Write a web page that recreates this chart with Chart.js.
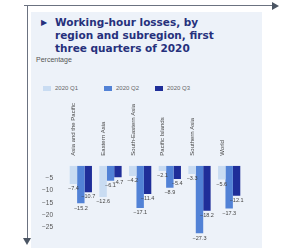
<!DOCTYPE html>
<html>
<head>
<meta charset="utf-8">
<script src="https://cdn.jsdelivr.net/npm/chart.js@4/dist/chart.umd.min.js"></script>
<style>
  html, body { margin: 0; padding: 0; background: #fff; }
  body { width: 282px; height: 252px; position: relative; overflow: hidden; font-family: "Liberation Sans", Arial, sans-serif; }
  .hline { position: absolute; left: 24px; top: 5px; width: 250px; height: 1px; background: #6b7280; }
  .harrow { position: absolute; left: 272px; top: 2px; width: 0; height: 0; border-top: 4px solid transparent; border-bottom: 4px solid transparent; border-left: 7px solid #4b5563; }
  .vline { position: absolute; left: 27px; top: 5px; width: 1px; height: 238px; background: #6b7280; }
  .varrow { position: absolute; left: 23px; top: 238px; width: 0; height: 0; border-left: 4px solid transparent; border-right: 4px solid transparent; border-top: 7px solid #4b5563; }
  .box { position: absolute; left: 31px; top: 12px; width: 231px; height: 236px; background: #edf2f9; }
  .title { position: absolute; left: 41px; top: 16px; width: 190px; font-family: "DejaVu Sans", sans-serif; font-weight: bold; font-size: 10.5px; line-height: 13px; color: #26307c; }
  .title .tri { position: absolute; left: 0; top: 0; font-size: 8px; }
  .title .txt { padding-left: 14px; display: block; }
  .sub { position: absolute; left: 36px; top: 56px; font-size: 7px; color: #555; }
  .legend { position: absolute; top: 85px; font-size: 6px; color: #666; white-space: nowrap; line-height: 7px; }
  .legend i { display: inline-block; width: 8px; height: 5px; margin-right: 4px; vertical-align: -0.5px; }
  #wrap { position: absolute; left: 34px; top: 101px; width: 222px; height: 143px; }
</style>
</head>
<body>
<div class="hline"></div><div class="harrow"></div>
<div class="vline"></div><div class="varrow"></div>
<div class="box"></div>
<div class="title"><span class="tri">&#9654;</span><span class="txt">Working-hour losses, by region and subregion, first three quarters of 2020</span></div>
<div class="sub">Percentage</div>
<div id="legend"></div>
<div id="wrap"><canvas id="chart"></canvas></div>
<script>
const regions = ['Asia and the Pacific', 'Eastern Asia', 'South-Eastern Asia', 'Pacific Islands', 'Southern Asia', 'World'];
const seriesNames = ['2020 Q1', '2020 Q2', '2020 Q3'];
const q1 = [-7.4, -12.6, -4.2, -2.1, -3.3, -5.6];
const q2 = [-15.2, -6.1, -17.1, -8.9, -27.3, -17.3];
const q3 = [-10.7, -4.7, -11.4, -5.4, -18.2, -12.1];
const yTicks = [-5, -10, -15, -20, -25];
const colors = ['#c9dcf2', '#5282d6', '#1f2e99'];
const legendX = [43, 104, 155];

function fmt(v) {
    return String(v).replace('-', '\u2212');
}

// legend sits above the rotated category labels, so it is plain html
document.getElementById('legend').innerHTML = seriesNames.map((name, i) =>
    `<div class="legend" style="left:${legendX[i]}px"><i style="background:${colors[i]}"></i>${name}</div>`
).join('');

const valueLabels = {
    id: 'valueLabels',
    afterDatasetsDraw(chart) {
        const ctx = chart.ctx;
        ctx.save();
        ctx.font = '5.5px "Liberation Sans", Arial, sans-serif';
        ctx.fillStyle = '#444';
        ctx.textAlign = 'center';
        ctx.textBaseline = 'top';
        chart.data.datasets.forEach((ds, i) => {
            chart.getDatasetMeta(i).data.forEach((bar, j) => {
                ctx.fillText(fmt(ds.data[j]), bar.x, bar.y + 2);
            });
        });
        ctx.restore();
    }
};

new Chart(document.getElementById('chart'), {
    type: 'bar',
    data: {
        labels: regions,
        datasets: [
            { label: seriesNames[0], data: q1, backgroundColor: colors[0] },
            { label: seriesNames[1], data: q2, backgroundColor: colors[1] },
            { label: seriesNames[2], data: q3, backgroundColor: colors[2] }
        ]
    },
    options: {
        responsive: true,
        maintainAspectRatio: false,
        animation: false,
        layout: { padding: { left: 0, right: 12, top: 0, bottom: 6 } },
        plugins: {
            legend: { display: false },
            tooltip: { enabled: false }
        },
        scales: {
            x: {
                position: 'top',
                grid: { display: false },
                border: { display: false },
                ticks: { minRotation: 90, maxRotation: 90, color: '#444', font: { size: 6 }, padding: 2 }
            },
            y: {
                min: -28,
                max: 0,
                grid: { display: false },
                border: { display: false },
                afterBuildTicks(axis) {
                    axis.ticks = yTicks.map(v => ({ value: v }));
                },
                afterFit(axis) {
                    axis.width = 32;
                },
                ticks: { color: '#555', font: { size: 6.5 }, padding: 5, callback: v => fmt(v) }
            }
        },
        datasets: { bar: { categoryPercentage: 0.75, barPercentage: 1 } }
    },
    plugins: [valueLabels]
});
</script>
</body>
</html>
